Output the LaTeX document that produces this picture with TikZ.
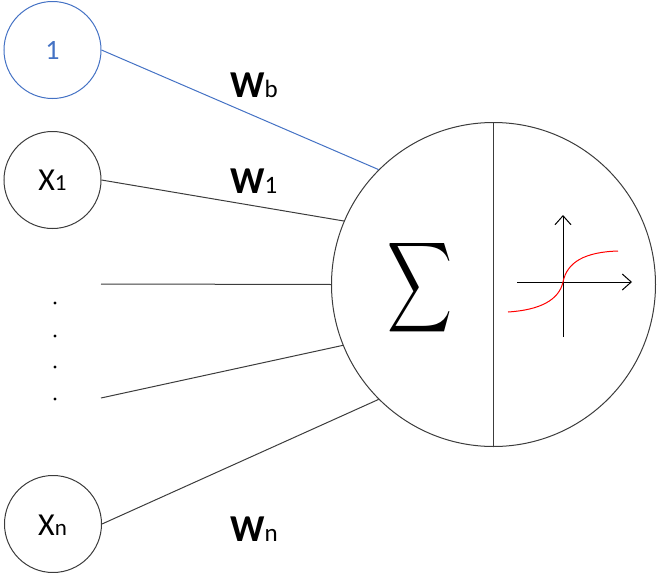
\documentclass[tikz,border=0pt]{standalone}
\usepackage{fontspec}
\setmainfont{Carlito}
\usepackage{graphicx}
\usetikzlibrary{arrows.meta}
\definecolor{obblue}{RGB}{68,114,196}
\definecolor{lgray}{RGB}{60,60,60}
\tikzset{
  inp/.style={circle,draw=lgray,line width=1pt,minimum size=97pt,inner sep=0pt},
  xlab/.style={anchor=base,inner sep=0pt,font=\fontsize{32}{34}\selectfont},
  conn/.style={draw=lgray,line width=1pt},
  wlab/.style={anchor=base west,inner sep=0pt,font=\fontsize{38}{40}\selectfont\bfseries},
  axis/.style={line width=1pt,-{Straight Barb[length=9pt,width=16pt,line width=1pt]}},
}
\begin{document}
\begin{tikzpicture}[x=1pt,y=-1pt]
\useasboundingbox (0,0) rectangle (657,573);
% inputs
\node[inp,draw=obblue,text=obblue,font=\fontsize{28}{32}\selectfont] (one) at (52.5,50) {1};
\node[inp] (x1) at (52.5,180) {};
\node[inp] (xn) at (53,524) {};
\node[xlab] (x1t) at (52.5,190) {X\fontsize{23}{26}\selectfont 1};
\node[xlab] (xnt) at (52.5,535) {X\fontsize{23}{26}\selectfont n};
% neuron
\node[circle,draw=lgray,line width=1pt,minimum size=324pt,inner sep=0pt] (neu) at (493.5,284.5) {};
\draw[conn] (neu.north) -- (neu.south);
\node[inner sep=0pt] (sig) at (420.5,287.5) {\resizebox*{65pt}{101pt}{$\displaystyle\sum$}};
% free ends
\coordinate (h1) at (101,284);
\coordinate (h2) at (101,398);
% connectors
\draw[draw=obblue,line width=1pt] (one.east) -- (neu.135);
\draw[conn] (x1.east) -- (neu.157.5);
\draw[conn] (h1) -- (neu.180);
\draw[conn] (h2) -- (neu.202.5);
\draw[conn] (xn.east) -- (neu.225);
% dots
\foreach \yy in {303,336,367,399} \fill (55,\yy) circle (1.7pt);
% weights
\node[wlab] (wb) at (230,97) {W\fontsize{25}{26}\mdseries\selectfont b};
\node[wlab] (w1) at (230,193) {W\fontsize{25}{26}\mdseries\selectfont 1};
\node[wlab] (wn) at (230,541) {W\fontsize{25}{26}\mdseries\selectfont n};
% activation
\coordinate (ax0) at (517,282);
\coordinate (ax1) at (632,282);
\coordinate (ay0) at (563,337);
\coordinate (ay1) at (563,215);
\draw[axis] (ax0) -- (ax1);
\draw[axis] (ay0) -- (ay1);
\draw[red,line width=1pt] (508,312) .. controls (540,310) and (559,300) .. (563,282)
  .. controls (567,262) and (585,252) .. (618,251);
\end{tikzpicture}
\end{document}
